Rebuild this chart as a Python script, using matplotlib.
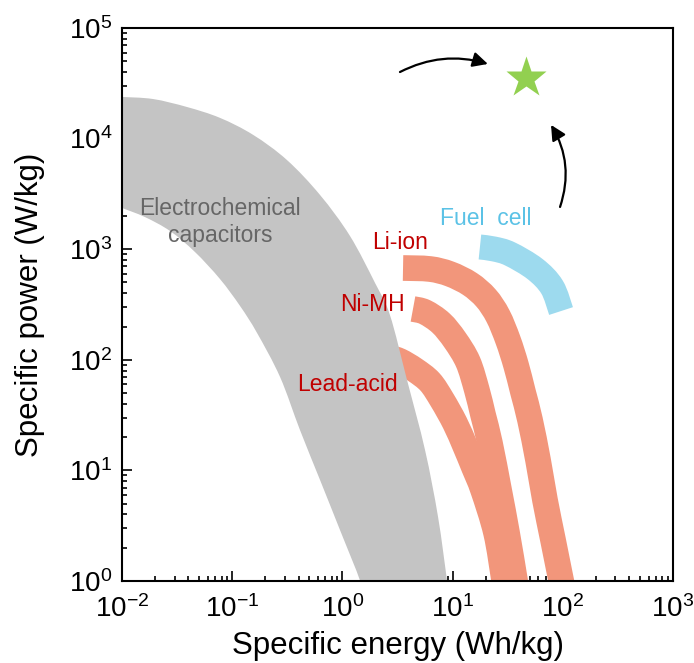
import numpy as np
import matplotlib
matplotlib.use('Agg')
from matplotlib import pyplot as plt
from matplotlib.path import Path
from matplotlib.patches import PathPatch

plt.rcParams['font.family'] = ['Liberation Sans', 'DejaVu Sans']
plt.rcParams['mathtext.fontset'] = 'custom'
plt.rcParams['mathtext.rm'] = 'Liberation Sans'
plt.rcParams['mathtext.it'] = 'Liberation Sans'
plt.rcParams['mathtext.default'] = 'regular'

# electrochemical capacitors band (upper and lower edges)
cap_upper_e = [0.01, 0.0191, 0.0389, 0.0774, 0.155, 0.314, 0.627, 1.17, 1.98, 2.70, 3.86, 5.62, 7.38, 8.90, 9.27]
cap_upper_p = [23800, 22800, 19300, 15400, 10800, 6400, 3090, 1320, 494, 254, 65.6, 15.3, 3.79, 1.0, 0.67]
cap_lower_e = [0.01, 0.0162, 0.0273, 0.0459, 0.0774, 0.118, 0.168, 0.272, 0.412, 0.627, 0.951, 1.45, 1.57]
cap_lower_p = [2360, 1950, 1460, 944, 538, 306, 175, 69.8, 23.2, 8.18, 2.89, 1.0, 0.67]

# battery bands (centre lines)
li_e = [3.55, 6.24, 9.46, 14.4, 20.1, 25.8, 31.8, 37.6, 43.5, 50.4, 59.6, 68.9, 81.5, 96.4, 105]
li_p = [676, 662, 597, 484, 362, 249, 151, 89.7, 51.2, 28.6, 12.4, 5.40, 2.35, 1.02, 0.67]
nimh_e = [4.37, 5.62, 7.85, 10.5, 13.8, 16.6, 18.9, 21.8, 26.4, 31.2, 36.8, 39.2]
nimh_p = [288, 270, 215, 151, 95.5, 53.3, 31.7, 17.7, 6.65, 2.72, 1.02, 0.67]
lead_e = [2.70, 3.33, 4.56, 6.24, 8.02, 10.5, 13.0, 15.6, 18.9, 24.8, 29.3, 31.2]
lead_p = [104, 97.5, 80.9, 63.0, 43.4, 26.8, 16.6, 10.7, 6.65, 2.72, 1.02, 0.67]
fuel_e = [17.7, 23.8, 33.2, 56.0, 79.8, 96.4]
fuel_p = [1047, 1004, 906, 662, 455, 276]

star_e, star_p = 46.4, 35300


def smooth(e, p):
    # bezier segments through the read points, built in log space
    pts = np.column_stack([np.log10(e), np.log10(p)])
    verts = [pts[0]]
    codes = [Path.MOVETO]
    n = len(pts)
    for i in range(n - 1):
        p0 = pts[max(i - 1, 0)]
        p1, p2 = pts[i], pts[i + 1]
        p3 = pts[min(i + 2, n - 1)]
        verts += [p1 + (p2 - p0) / 6, p2 - (p3 - p1) / 6, p2]
        codes += [Path.CURVE4] * 3
    return 10 ** np.array(verts), codes


fig = plt.figure(figsize=(6.94, 6.63), dpi=100)
ax = fig.add_axes([122/694, 1-581/663, 551/694, 553/663])
ax.set_xscale('log')
ax.set_yscale('log')
ax.set_xlim(1e-2, 1e3)
ax.set_ylim(1e0, 1e5)

orange = '#F2967B'
for e, p, c, w in [(lead_e, lead_p, orange, 18.5), (nimh_e, nimh_p, orange, 18.5),
                   (li_e, li_p, orange, 18.5), (fuel_e, fuel_p, '#9DDAEE', 18)]:
    v, cd = smooth(e, p)
    ax.add_patch(PathPatch(Path(v, cd), fill=False, edgecolor=c, lw=w,
                           capstyle='butt', joinstyle='round', zorder=2))

vu, cu = smooth(cap_upper_e, cap_upper_p)
vl, cl = smooth(cap_lower_e[::-1], cap_lower_p[::-1])
cl = [Path.LINETO] + cl[1:]
verts = np.vstack([vu, vl, vu[:1]])
codes = cu + cl + [Path.CLOSEPOLY]
ax.add_patch(PathPatch(Path(verts, codes), facecolor='#C4C4C4', lw=0, zorder=3))

ax.plot([star_e], [star_p], marker='*', ms=31, color='#92D050', mec='none', zorder=4)

arr = dict(arrowstyle='-|>,head_length=0.9,head_width=0.45', color='black', lw=1.6,
           mutation_scale=10, shrinkA=0, shrinkB=0)
ax.annotate('', xy=(20.9, 47300), xytext=(3.33, 40000),
            arrowprops=dict(arr, connectionstyle='arc3,rad=-0.2'), zorder=5)
ax.annotate('', xy=(78.2, 13300), xytext=(94.4, 2410),
            arrowprops=dict(arr, connectionstyle='arc3,rad=0.23'), zorder=5)

fs = 16.5
ax.text(0.0774, 1760, 'Electrochemical\ncapacitors', color='#666666', fontsize=fs,
        ha='center', va='center', linespacing=1.2, zorder=6)
ax.text(3.33, 1160, 'Li-ion', color='#C00000', fontsize=fs, ha='center', va='center', zorder=6)
ax.text(1.86, 313, 'Ni-MH', color='#C00000', fontsize=fs, ha='center', va='center', zorder=6)
ax.text(1.11, 59.2, 'Lead-acid', color='#C00000', fontsize=fs, ha='center', va='center', zorder=6)
ax.text(19.9, 1910, 'Fuel  cell', color='#5BC2E6', fontsize=fs, ha='center', va='center', zorder=6)

for s in ax.spines.values():
    s.set_linewidth(1.5)
    s.set_zorder(7)
ax.tick_params(which='both', direction='in', top=False, right=False, width=1.2, labelsize=20)
ax.tick_params(which='major', length=7)
ax.tick_params(which='minor', length=3.5)
ax.tick_params(axis='x', pad=10)
ax.tick_params(axis='y', pad=7)

ax.set_xlabel('Specific energy (Wh/kg)', fontsize=22.5, labelpad=6)
ax.set_ylabel('Specific power (W/kg)', fontsize=22.5, labelpad=17)

fig.savefig('out.png', dpi=100)
